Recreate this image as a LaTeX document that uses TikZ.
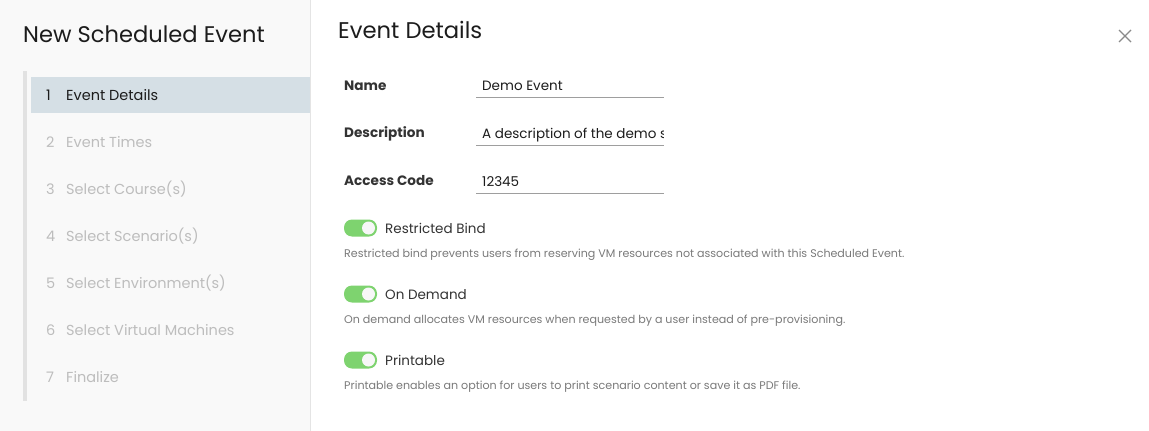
\documentclass[tikz,border=0pt]{standalone}
\usepackage{fontspec}
\setmainfont{Poppins}
\usetikzlibrary{positioning}

\definecolor{sidebg}{HTML}{F9F9F9}
\definecolor{divider}{HTML}{E4E4E4}
\definecolor{railgray}{HTML}{E2E2E2}
\definecolor{activebg}{HTML}{D5DFE5}
\definecolor{titlecol}{HTML}{1C1C1C}
\definecolor{stepon}{HTML}{1C1C1C}
\definecolor{stepoff}{HTML}{BDBDBD}
\definecolor{labelcol}{HTML}{333333}
\definecolor{desccol}{HTML}{7A7A7A}
\definecolor{fieldline}{HTML}{9E9E9E}
\definecolor{togglegreen}{HTML}{7ED36F}
\definecolor{knobcol}{HTML}{F7F7F7}
\definecolor{closecol}{HTML}{8A8A8A}

\tikzset{
  txt/.style={inner sep=0pt, anchor=west, text height=1.05em, text depth=0pt},
  bigtitle/.style={txt, font=\fontsize{22.6}{26}\selectfont, text=titlecol},
  stepitem/.style={txt, font=\fontsize{14.5}{17}\selectfont},
  fieldlabel/.style={txt, font=\fontsize{13.6}{16}\selectfont\bfseries, text=labelcol},
  fieldvalue/.style={txt, font=\fontsize{13.5}{16}\selectfont, text=titlecol},
  togglelabel/.style={txt, font=\fontsize{13.5}{16}\selectfont, text=labelcol},
  helptext/.style={txt, font=\fontsize{11.1}{13}\selectfont, text=desccol}
}

\begin{document}
\begin{tikzpicture}[x=1pt,y=-1pt]
  \useasboundingbox (0,0) rectangle (1149,431);
  \fill[white] (0,0) rectangle (1149,431);

  % sidebar
  \fill[sidebg] (0,0) rectangle (310,431);
  \draw[divider] (310.5,0) -- (310.5,431);
  \fill[railgray] (23,71) rectangle (27,401);
  \fill[activebg] (31,77) rectangle (310,113);

  \node[bigtitle] (title) at (23,37.5) {New Scheduled Event};

  \foreach \lab [count=\i] in {Event Details, Event Times, Select Course(s),
      Select Scenario(s), Select Environment(s), Select Virtual Machines, Finalize}{
    \ifnum\i=1 \def\stepcol{stepon}\else\def\stepcol{stepoff}\fi
    \node[stepitem, text=\stepcol] (num\i) at (46,{95+47*(\i-1)}) {\i};
    \node[stepitem, text=\stepcol] (step\i) at (66,{95+47*(\i-1)}) {\lab};
  }

  % main panel
  \node[bigtitle, font=\fontsize{22.7}{26}\selectfont] (header) at (338,33.5) {Event Details};
  \draw[closecol, line width=1.1pt] (1119,30) -- (1131,42) (1131,30) -- (1119,42);

  \node[fieldlabel] (lname) at (344,85) {Name};
  \node[fieldvalue] (vname) at (482,85) {Demo Event};
  \draw[fieldline] (476,97) -- (664,97);

  \node[fieldlabel] (ldesc) at (344,132) {Description};
  \begin{scope}
    \clip (476,118) rectangle (663,150);
    \node[fieldvalue] (vdesc) at (482,133) {A description of the demo scheduled event};
  \end{scope}
  \draw[fieldline] (476,145) -- (664,145);

  \node[fieldlabel] (lcode) at (344,180) {Access Code};
  \node[fieldvalue] (vcode) at (482,181) {12345};
  \draw[fieldline] (476,193) -- (664,193);

  % toggles
  \foreach \y/\lab/\desc [count=\k] in {
      228/Restricted Bind/Restricted bind prevents users from reserving VM resources not associated with this Scheduled Event.,
      294/On Demand/On demand allocates VM resources when requested by a user instead of pre-provisioning.,
      360/Printable/Printable enables an option for users to print scenario content or save it as PDF file.}{
    \fill[togglegreen, rounded corners=8pt] (344,\y-8.5) rectangle (377,\y+8.5);
    \fill[knobcol] (368.5,\y) circle (6.5);
    \node[togglelabel] (tog\k) at (385,\y) {\lab};
    \node[helptext] (help\k) at (344,\y+24) {\desc};
  }
\end{tikzpicture}
\end{document}
